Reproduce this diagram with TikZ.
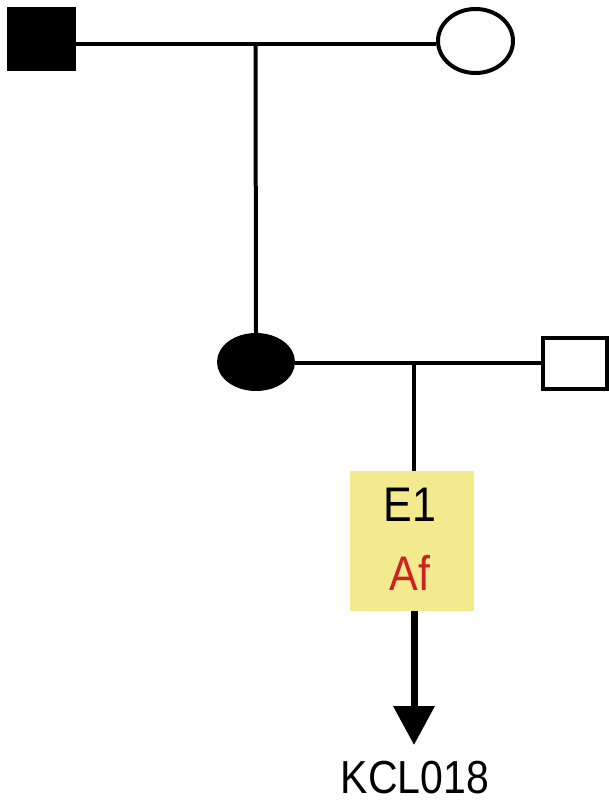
\documentclass[tikz,border=0pt]{standalone}
\usepackage{fontspec}
\setmainfont{Liberation Sans}
\usetikzlibrary{shapes.geometric,arrows.meta}
\definecolor{noteyellow}{HTML}{F3E98D}
\definecolor{allelered}{HTML}{CC2222}
\newcommand{\tallt}[1]{\scalebox{1}[1.13]{#1}}
\tikzset{
  kin/.style={line width=4pt, black},
  male/.style={draw, line width=4pt, rectangle, inner sep=0pt},
  female/.style={draw, line width=4pt, ellipse, inner sep=0pt},
  gtbox/.style={rectangle, fill=noteyellow, draw=none, inner sep=0pt,
                minimum width=124pt, minimum height=140pt},
  bigtxt/.style={font=\fontsize{43}{43}\selectfont, inner sep=0pt},
}
\begin{document}
\begin{tikzpicture}[x=1pt, y=-1pt]
  \useasboundingbox (0,0) rectangle (609,805);

  % first generation
  \node[male, fill=black, minimum width=65pt, minimum height=60pt] (gf) at (41.5,39) {};
  \node[female, fill=white, minimum width=75pt, minimum height=64pt] (gm) at (475.5,41) {};
  \coordinate (mate1) at (255.5,44);
  \draw[kin] (gf.east |- mate1) -- (gm.west |- mate1);

  % second generation
  \node[female, fill=black, minimum width=74pt, minimum height=54pt] (mo) at (256,362) {};
  \draw[kin] (mate1) -- (mo.north);
  \node[male, fill=white, minimum width=64pt, minimum height=51pt] (fa) at (575,363.5) {};
  \coordinate (mate2) at (414,363);
  \draw[kin] (mo.east |- mate2) -- (fa.west |- mate2);

  % genotype box of the child
  \node[gtbox] (gt) at (412,541) {};
  \draw[kin] (mate2) -- (gt.north -| mate2);
  \node[bigtxt] (e1) at (410,504.5) {\tallt{E1}};
  \node[bigtxt, text=allelered] (af) at (410,573) {\tallt{Af}};

  % derived line
  \node[bigtxt, font=\fontsize{41}{41}\selectfont] (kcl) at (415,778) {\tallt{KCL018}};
  \coordinate (tip) at (414,745);
  \draw[line width=7pt, -{Triangle[length=39pt,width=40pt]}] (gt.south -| tip) -- (tip);
\end{tikzpicture}
\end{document}
